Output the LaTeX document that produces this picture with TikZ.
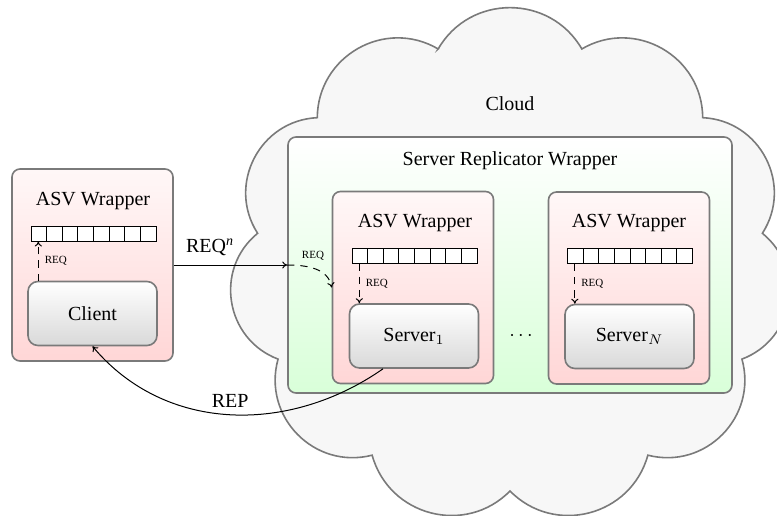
\documentclass[tikz,border=0pt]{standalone}
\usepackage{fontspec}
\setmainfont{Liberation Serif}
\usetikzlibrary{arrows.meta,calc}
\begin{document}
\begin{tikzpicture}[x=0.5pt,y=0.5pt,
  border/.style={draw=black!52, line width=0.8pt},
  wrapbox/.style={border, rounded corners=4pt, top color=red!3, bottom color=red!16,
    minimum width=80.5pt, minimum height=96pt, inner sep=0pt},
  greenbox/.style={border, rounded corners=4pt, top color=white, bottom color=green!15,
    minimum width=222pt, minimum height=128pt, inner sep=0pt},
  procbox/.style={border, rounded corners=5pt, top color=white, bottom color=black!15,
    minimum width=64.5pt, minimum height=32pt, inner sep=0pt, font=\fontsize{10}{12}\selectfont},
  queuebox/.style={draw=black, line width=0.5pt, fill=white, minimum width=62.5pt,
    minimum height=7.5pt, inner sep=0pt,
    path picture={\foreach \i in {1,...,7}{\draw[line width=0.5pt]
      ($(path picture bounding box.south west)+(\i*7.8125pt,0)$) --
      ($(path picture bounding box.north west)+(\i*7.8125pt,0)$);}}},
  lbl/.style={font=\fontsize{10}{12}\selectfont},
  smalllbl/.style={font=\fontsize{5.5}{6}\selectfont, inner sep=1.5pt},
  arr/.style={-{To[length=2.5pt,width=3.6pt]}, line width=0.5pt, draw=black},
  dasharr/.style={arr, dash pattern=on 3.6pt off 3pt}
]
\useasboundingbox (0,0) rectangle (777,-515);
\clip (0,0) rectangle (777,-515);

% cloud
\begin{scope}[shift={(510,-265.4)}]
\draw[border, fill=black!3] (106.3636:255 and 225.6)
  \foreach \k in {1,...,11}{ to[bend right=60, looseness=1.135] ({106.3636+\k*32.7273}:255 and 225.6) } -- cycle;
\end{scope}
\node[lbl] (cloudlbl) at (510,-104) {Cloud};

% server replicator wrapper
\node[greenbox] (green) at (510,-265) {};
\node[lbl] (srwlbl) at (510,-161) {Server Replicator Wrapper};

% client side
\node[wrapbox] (cw) at (92.5,-265) {};
\node[lbl] (cwl) at (93,-201) {ASV Wrapper};
\node[queuebox] (qC) at (93.5,-233.5) {};
\node[procbox] (client) at (92.5,-313.5) {Client};

% server 1
\node[wrapbox] (s1w) at (413,-287.5) {};
\node[lbl] (s1l) at (415,-223) {ASV Wrapper};
\node[queuebox] (q1) at (414.5,-255.5) {};
\node[procbox] (s1) at (414,-336) {Server$_1$};

% server N
\node[wrapbox] (snw) at (629,-288) {};
\node[lbl] (snl) at (629,-223) {ASV Wrapper};
\node[queuebox] (qN) at (630,-256) {};
\node[procbox] (sN) at (629.5,-336.5) {Server$_N$};

\node[lbl] (dots) at (521,-336) {$\cdots$};

% internal REQ arrows
\coordinate (cC) at ($(qC.south west)+(3.9pt,0)$);
\draw[dasharr] (cC |- client.north) -- node[smalllbl, right, xshift=1.5pt] {REQ} (cC);
\coordinate (c1) at ($(q1.south west)+(3.9pt,0)$);
\draw[dasharr] (c1) -- node[smalllbl, right, xshift=1.5pt] {REQ} (c1 |- s1.north);
\coordinate (cN) at ($(qN.south west)+(3.9pt,0)$);
\draw[dasharr] (cN) -- node[smalllbl, right, xshift=1.5pt] {REQ} (cN |- sN.north);

% REQ^n
\draw[arr] (cw.east) -- node[lbl, above, pos=0.32, yshift=1pt] {REQ\textsuperscript{\textit{n}}} (green.west);
\draw[dasharr] (green.west) to[out=0, in=100] node[smalllbl, above, pos=0.45, yshift=2pt] {REQ} (s1w.west);

% REP
\draw[arr] ([xshift=-15.5pt]s1.south) to[out=215, in=-50] node[lbl, above] {REP} (client.south);
\end{tikzpicture}
\end{document}
